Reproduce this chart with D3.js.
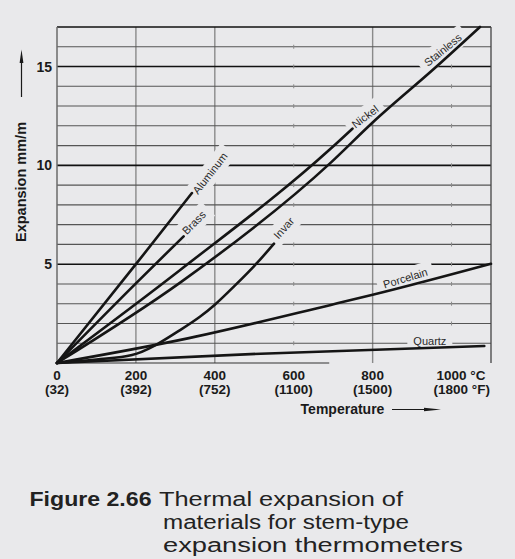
<!DOCTYPE html>
<html><head><meta charset="utf-8">
<script src="https://cdn.jsdelivr.net/npm/d3@7"></script>
<style>
html,body{margin:0;padding:0;background:#e9e9eb;}
svg{display:block;font-family:"Liberation Sans",Arial,Helvetica,sans-serif;}
</style></head><body>
<svg id="chart" width="515" height="559"></svg>
<script>
// ---- data ----
const xTicks = [0, 200, 400, 600, 800, 1000];
const xTickC = ["0", "200", "400", "600", "800", "1000"];
const xUnitC = " °C";
const xTickF = ["(32)", "(392)", "(752)", "(1100)", "(1500)", "(1800 °F)"];
const yTicks = [5, 10, 15];
const yGridLines = [1, 2, 3, 4, 6, 7, 8, 9, 11, 12, 13, 14, 16];
const yMajorLines = [5, 10, 15, 17];
const xGridLines = [200, 400, 800];
const xDotLines = [600, 1000];

const aluminum = [[0, 0], [200, 5.0], [342, 8.6]];
const brass = [[0, 0], [200, 4.03], [321, 6.41]];
const nickel = [[0, 0], [313, 4.72], [694, 10.85], [749, 11.86]];
const stainless = [[0, 0], [313, 4.08], [694, 10.14], [800, 12.17], [962, 15], [1072, 17]];
const invar = [[0, 0], [100, 0.18], [190, 0.4], [313, 1.68], [363, 2.35], [400, 2.95], [450, 3.9], [507, 5.06], [550, 6.04]];
const porcelain = [[0, 0], [313, 1.17], [694, 2.94], [800, 3.45], [1100, 5.02]];
const quartz = [[0, 0], [516, 0.47], [1083, 0.86]];

const seriesNames = ["Aluminum", "Brass", "Nickel", "Stainless", "Invar", "Porcelain", "Quartz"];
const seriesData = [aluminum, brass, nickel, stainless, invar, porcelain, quartz];
const labelT = [388, 347, 781, 978, 575, 883, 945];
const labelE = [9.6, 7.1, 12.46, 15.84, 6.83, 4.29, 1.13];
const labelAngle = [-52, -45, -37, -39, -48, -17, 0];

const captionBold = "Figure 2.66";
const captionLines = ["Thermal expansion of", "materials for stem-type", "expansion thermometers"];
const xTitle = "Temperature";
const yTitle = "Expansion mm/m";

// ---- layout ----
const bg = "#e9e9eb";
const svg = d3.select("#chart");
const x = d3.scaleLinear().domain([0, 1100]).range([57, 491]);
const y = d3.scaleLinear().domain([0, 17]).range([363, 27]);

svg.append("rect").attr("width", 515).attr("height", 559).attr("fill", bg);
const grid = svg.append("g");
const masks = svg.append("g");
const curves = svg.append("g");
const labels = svg.append("g");
const axes = svg.append("g");

// vertical grey grid lines
grid.selectAll("line.vx").data(xGridLines).join("line").attr("class", "vx")
  .attr("x1", d => x(d)).attr("x2", d => x(d))
  .attr("y1", y(17)).attr("y2", y(0))
  .attr("stroke", "#8a8a8a").attr("stroke-width", 1.4);
// horizontal minor lines
grid.selectAll("line.hm").data(yGridLines).join("line").attr("class", "hm")
  .attr("x1", x(0)).attr("x2", x(1100))
  .attr("y1", d => y(d)).attr("y2", d => y(d))
  .attr("stroke", "#555").attr("stroke-width", 1.1);
// horizontal major lines
grid.selectAll("line.hM").data(yMajorLines).join("line").attr("class", "hM")
  .attr("x1", x(0)).attr("x2", x(1100))
  .attr("y1", d => y(d)).attr("y2", d => y(d))
  .attr("stroke", "#111").attr("stroke-width", 1.6);
// small tick marks for 600 and 1000
const dotPairs = [];
xDotLines.forEach(t => yGridLines.concat([5, 10, 15]).forEach(e => dotPairs.push([t, e])));
grid.selectAll("line.dt").data(dotPairs).join("line").attr("class", "dt")
  .attr("x1", d => x(d[0])).attr("x2", d => x(d[0]))
  .attr("y1", d => y(d[1]) - 2).attr("y2", d => y(d[1]) + 2)
  .attr("stroke", "#8a8a8a").attr("stroke-width", 1);
// frame
grid.append("line").attr("x1", x(0)).attr("x2", x(0)).attr("y1", y(17)).attr("y2", y(0))
  .attr("stroke", "#6a6a6a").attr("stroke-width", 1.5);
grid.append("line").attr("x1", x(1100)).attr("x2", x(1100)).attr("y1", y(17)).attr("y2", y(0))
  .attr("stroke", "#444").attr("stroke-width", 1.3);
grid.append("line").attr("x1", x(0)).attr("x2", x(690)).attr("y1", y(0)).attr("y2", y(0))
  .attr("stroke", "#333").attr("stroke-width", 1.2);

// curves
const lineGen = d3.line().x(d => x(d[0])).y(d => y(d[1])).curve(d3.curveMonotoneX);
curves.selectAll("path").data(seriesData).join("path")
  .attr("d", lineGen)
  .attr("fill", "none").attr("stroke", "#151515").attr("stroke-width", 2.6)
  .attr("stroke-linejoin", "round").attr("stroke-linecap", "round");

// labels with masks (gaps in the grid behind labels)
const labelFont = 11;
seriesNames.forEach((name, i) => {
  const cx = x(labelT[i]), cy = y(labelE[i]);
  const t = labels.append("text")
    .attr("transform", `translate(${cx},${cy}) rotate(${labelAngle[i]})`)
    .attr("text-anchor", "middle").attr("dy", "0.35em")
    .attr("font-size", labelFont).attr("fill", "#2a2a2a")
    .text(name);
  const w = t.node().getComputedTextLength();
  masks.append("rect")
    .attr("transform", `translate(${cx},${cy}) rotate(${labelAngle[i]})`)
    .attr("x", -w / 2 - 6).attr("y", -10).attr("width", w + 12).attr("height", 20)
    .attr("fill", bg);
});

// y tick labels
axes.append("g").selectAll("text").data(yTicks).join("text")
  .attr("x", 52).attr("y", d => y(d) + 5)
  .attr("text-anchor", "end").attr("font-weight", "bold").attr("font-size", 14)
  .attr("fill", "#1a1a1a").text(d => d);

// x tick labels
const xt = axes.append("g").attr("font-weight", "bold").attr("font-size", 13.5).attr("fill", "#1a1a1a");
xTicks.forEach((t, i) => {
  const last = i === xTicks.length - 1;
  const a = xt.append("text").attr("y", 379.5).text(xTickC[i]);
  const w = a.node().getComputedTextLength();
  a.attr("x", x(t) - w / 2);
  if (last) a.append("tspan").text(xUnitC);
  const b = xt.append("text").attr("y", 394).text(xTickF[i]);
  const wb = b.node().getComputedTextLength();
  if (last) b.attr("x", x(t) - w / 2 - 3);
  else b.attr("x", x(t) - wb / 2);
});

// x title and arrow
axes.append("text").attr("x", 342.5).attr("y", 414).attr("text-anchor", "middle")
  .attr("font-weight", "bold").attr("font-size", 14).attr("fill", "#1a1a1a").text(xTitle);
axes.append("line").attr("x1", 392).attr("x2", 430).attr("y1", 409.5).attr("y2", 409.5)
  .attr("stroke", "#1a1a1a").attr("stroke-width", 1.2);
axes.append("path").attr("d", "M424,407.7 L441,409.5 L424,411.3 Z").attr("fill", "#1a1a1a");

// y title and arrow
axes.append("text").attr("transform", "translate(25.5,182) rotate(-90)").attr("text-anchor", "middle")
  .attr("font-weight", "bold").attr("font-size", 14.5).attr("fill", "#1a1a1a").text(yTitle);
axes.append("line").attr("x1", 21.5).attr("x2", 21.5).attr("y1", 97).attr("y2", 58)
  .attr("stroke", "#1a1a1a").attr("stroke-width", 1.2);
axes.append("path").attr("d", "M19.6,63 L21.5,49.5 L23.4,63 Z").attr("fill", "#1a1a1a");

// caption (widths matched to the reference)
const capFont = 20;
const capWidths = [244, 246, 300];
axes.append("text").attr("x", 29.5).attr("y", 506).attr("font-weight", "bold")
  .attr("font-size", capFont).attr("fill", "#222")
  .attr("textLength", 122).attr("lengthAdjust", "spacingAndGlyphs").text(captionBold);
axes.append("g").selectAll("text").data(captionLines).join("text")
  .attr("x", (d, i) => i === 0 ? 159 : 163)
  .attr("y", (d, i) => 506 + i * 23)
  .attr("font-size", capFont).attr("fill", "#222")
  .attr("textLength", (d, i) => capWidths[i]).attr("lengthAdjust", "spacingAndGlyphs")
  .text(d => d);
</script>
</body></html>
